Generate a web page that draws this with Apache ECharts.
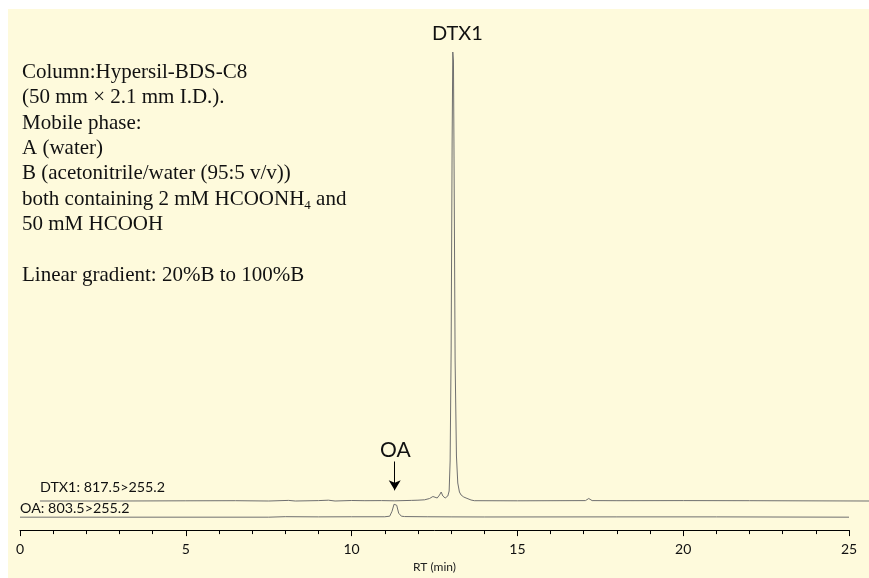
<!DOCTYPE html>
<html>
<head>
<meta charset="utf-8">
<script src="https://cdn.jsdelivr.net/npm/echarts@6/dist/echarts.min.js"></script>
<style>
  html, body { margin: 0; padding: 0; background: #fff; }
  #chart { width: 869px; height: 578px; }
</style>
</head>
<body>
<div id="chart"></div>
<script>
// retention time (min) / intensity pairs
const dtx1Trace = [
  [0.6, 0], [3, 0], [5, 0.2], [6.5, 0.3], [7.5, 0], [8.1, 0.6], [8.3, 0], [9.0, 0.4], [9.3, 0.8],
  [9.5, 0], [10.0, 0.5], [10.4, 0.3], [10.9, 0.4], [11.3, 0.2], [11.8, 0.6], [12.0, 0.8],
  [12.2, 1.2], [12.35, 2.5], [12.45, 4.5], [12.5, 2.5], [12.58, 3], [12.65, 6], [12.7, 9],
  [12.75, 5], [12.82, 3], [12.9, 5], [12.94, 10], [12.97, 40], [13.0, 150], [13.03, 360],
  [13.05, 449], [13.07, 440], [13.09, 330], [13.12, 140], [13.16, 45], [13.2, 18], [13.25, 9],
  [13.3, 6], [13.38, 4], [13.45, 3], [13.5, 2], [13.6, 1], [13.7, 0.3], [15, 0.2],
  [17.05, 0.4], [17.15, 2.5], [17.25, 0.4], [18, 0.3], [20, 0.4], [22, 0.3], [25.6, 0]
]
const oaTrace = [
  [0, 0], [7.5, 0], [8, 0.5], [9, 0.3], [10, 0.4], [11.0, 0.4], [11.15, 1], [11.22, 6],
  [11.28, 13], [11.32, 15], [11.36, 12], [11.42, 4], [11.5, 1], [11.6, 0.6], [12.3, 0.4],
  [13, 0.3], [14, 0.2], [18, 0.3], [21, 0.3], [25, 0]
]
// vertical offset of each trace (stacked chromatograms)
const dtx1Offset = 32
const oaOffset = 13
const xTicks = [0, 5, 10, 15, 20, 25]
const traceNames = ['DTX1: 817.5>255.2', 'OA: 803.5>255.2']
const notes = [
  'Column:Hypersil-BDS-C8',
  '(50 mm \u00d7 2.1 mm I.D.).',
  'Mobile phase:',
  'A (water)',
  'B (acetonitrile/water (95:5 v/v))',
  'both containing 2 mM HCOONH{sub|4} and',
  '50 mM HCOOH',
  '',
  'Linear gradient: 20%B to 100%B'
]

function shift(data, off) {
  return data.map(function (p) { return [p[0], p[1] + off] })
}

const chart = echarts.init(document.getElementById('chart'))
const sans = 'Lato, "Liberation Sans", sans-serif'

chart.setOption({
  animation: false,
  // grid 0 carries the axis, grid 1 lets the DTX1 trace run past 25 min
  grid: [
    { left: 20, right: 20, top: 23, bottom: 45 },
    { left: 20, right: 0, top: 23, bottom: 45 }
  ],
  xAxis: [{
    type: 'value', min: 0, max: 25, interval: 5, gridIndex: 0,
    name: 'RT (min)', nameLocation: 'middle', nameGap: 29,
    nameTextStyle: { fontFamily: sans, fontSize: 12, color: '#222' },
    axisLine: { onZero: false, lineStyle: { color: '#000', width: 1 } },
    axisTick: { length: 6, lineStyle: { color: '#000' } },
    minorTick: { show: true, splitNumber: 5, length: 4, lineStyle: { color: '#000' } },
    axisLabel: {
      fontFamily: sans, fontSize: 14, color: '#111', margin: 12,
      formatter: function (v) { return xTicks.indexOf(v) >= 0 ? String(v) : '' }
    },
    splitLine: { show: false }
  }, {
    type: 'value', min: 0, max: 25.6, gridIndex: 1, show: false
  }],
  yAxis: [
    { type: 'value', min: 0, max: 510, show: false, gridIndex: 0 },
    { type: 'value', min: 0, max: 510, show: false, gridIndex: 1 }
  ],
  graphic: [
    { type: 'rect', z: -10, shape: { x: 8, y: 9, width: 861, height: 569 }, style: { fill: '#fefadc' } },
    {
      type: 'text', left: 22, top: 60,
      style: {
        text: notes.join('\n'),
        font: '21px "Liberation Serif", "Times New Roman", serif',
        lineHeight: 25.3, fill: '#111',
        rich: {
          sub: { fontSize: 13, lineHeight: 14, verticalAlign: 'bottom', fontFamily: '"Liberation Serif", serif', fill: '#111' }
        }
      }
    },
    { type: 'text', left: 432, top: 24, style: { text: 'DTX1', font: '20px ' + sans, fill: '#111' } },
    { type: 'text', left: 380, top: 440, style: { text: 'OA', font: '21px ' + sans, fill: '#111' } },
    { type: 'text', left: 40, top: 480, style: { text: traceNames[0], font: '14.3px ' + sans, fill: '#111' } },
    { type: 'text', left: 20, top: 501, style: { text: traceNames[1], font: '14.3px ' + sans, fill: '#111' } }
  ],
  series: [
    {
      type: 'line', name: 'DTX1', data: shift(dtx1Trace, dtx1Offset),
      xAxisIndex: 1, yAxisIndex: 1,
      showSymbol: false, smooth: false,
      lineStyle: { color: '#6f6f6f', width: 1 }
    },
    {
      type: 'line', name: 'OA', data: shift(oaTrace, oaOffset),
      showSymbol: false, smooth: false,
      lineStyle: { color: '#6f6f6f', width: 1 },
      markLine: {
        silent: true, symbol: ['none', 'arrow'], symbolSize: [9, 10],
        label: { show: false },
        lineStyle: { color: '#000', width: 1, type: 'solid' },
        data: [[{ coord: [11.3, 69] }, { coord: [11.3, 40] }]]
      }
    }
  ]
})
</script>
</body>
</html>
